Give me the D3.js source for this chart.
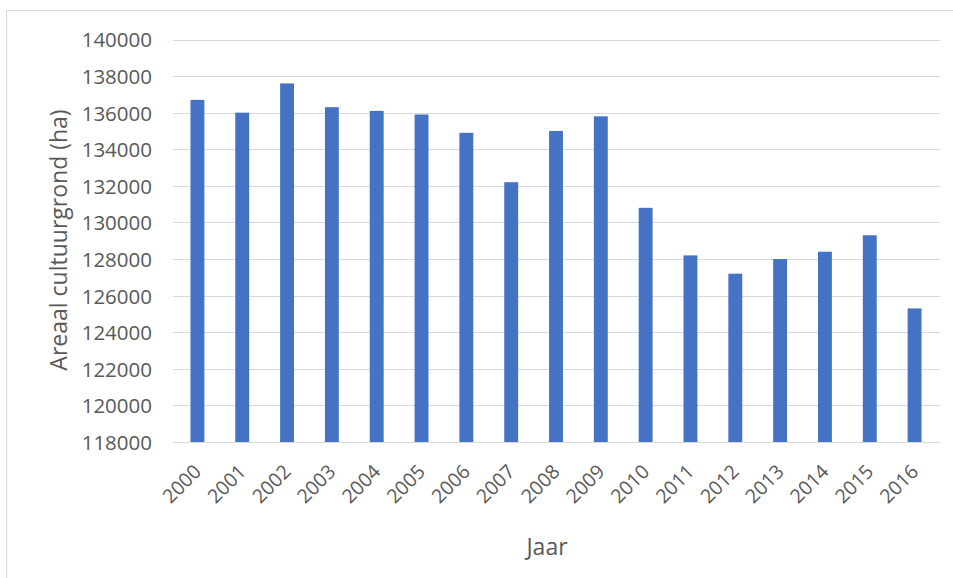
<!DOCTYPE html>
<html>
<head>
<meta charset="utf-8">
<script src="https://cdn.jsdelivr.net/npm/d3@7"></script>
<style>
html,body{margin:0;padding:0;background:#fff;}
svg{display:block;}
text{font-family:"Open Sans",sans-serif;fill:#595959;}
</style>
</head>
<body>
<svg id="chart" width="953" height="578"></svg>
<script>
const years = ["2000","2001","2002","2003","2004","2005","2006","2007","2008","2009","2010","2011","2012","2013","2014","2015","2016"];
const areaal = [136700,136000,137600,136300,136100,135900,134900,132200,135000,135800,130800,128200,127200,128000,128400,129300,125300];
const yTicks = [118000,120000,122000,124000,126000,128000,130000,132000,134000,136000,138000,140000];
const yTitle = "Areaal cultuurgrond (ha)";
const xTitle = "Jaar";

const svg = d3.select("#chart");
const W = 953, H = 578;

// frame
svg.append("rect").attr("x",6.5).attr("y",10.5).attr("width",W).attr("height",H)
  .attr("fill","none").attr("stroke","#d9d9d9").attr("stroke-width",1);

const x = d3.scaleBand().domain(years).range([175,937]).paddingInner(0.69).paddingOuter(0.345);
const y = d3.scaleLinear().domain([118000,140000]).range([442,39.5]);

// gridlines
svg.append("g").selectAll("line").data(yTicks).join("line")
  .attr("x1",173).attr("x2",940)
  .attr("y1",d=>Math.round(y(d))+0.5).attr("y2",d=>Math.round(y(d))+0.5)
  .attr("stroke","#d9d9d9").attr("stroke-width",1);

// bars
svg.append("g").selectAll("rect").data(areaal).join("rect")
  .attr("x",(d,i)=>x(years[i]))
  .attr("width",x.bandwidth())
  .attr("y",d=>y(d))
  .attr("height",d=>y(118000)-y(d))
  .attr("fill","#4472c4");

// y axis
const yAxis = d3.axisLeft(y).tickValues(yTicks).tickSize(0).tickPadding(0).tickFormat(d3.format("d"));
const gy = svg.append("g").attr("transform","translate(152,0)").call(yAxis);
gy.select(".domain").remove();
gy.selectAll("text").attr("font-size","20.5px").attr("font-family","'Open Sans',sans-serif").attr("fill","#595959").attr("dy","0.36em");

// x axis
const xAxis = d3.axisBottom(x).tickSize(0).tickPadding(0);
const gx = svg.append("g").attr("transform","translate(0,442)").call(xAxis);
gx.select(".domain").attr("stroke","#d9d9d9").attr("d","M173,0.5H940");
gx.selectAll("text").attr("font-size","19.5px").attr("font-family","'Open Sans',sans-serif").attr("fill","#595959")
  .attr("text-anchor","end")
  .attr("transform","translate(0,26) rotate(-45)")
  .attr("dy","0.36em").attr("y",0);

// titles
svg.append("text").attr("transform","translate(67,240) rotate(-90)")
  .attr("text-anchor","middle").attr("font-size","23px").text(yTitle);
svg.append("text").attr("x",547).attr("y",555)
  .attr("text-anchor","middle").attr("font-size","23px").text(xTitle);
</script>
</body>
</html>
